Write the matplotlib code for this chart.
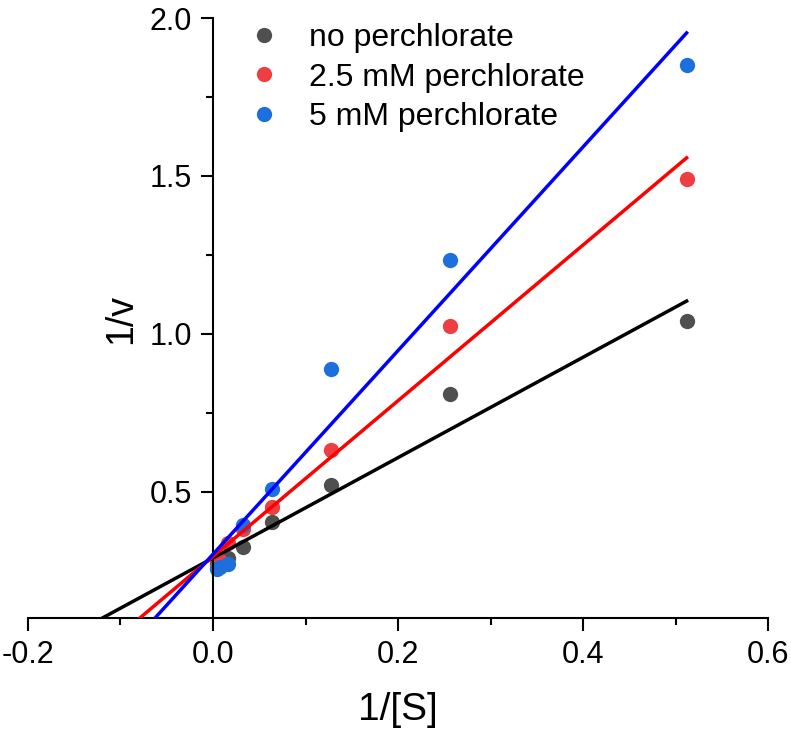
import numpy as np
import matplotlib.pyplot as plt
from matplotlib.ticker import MultipleLocator, FixedLocator

# 1/[S] values
inv_s = [0.004, 0.008, 0.016, 0.032, 0.064, 0.128, 0.256, 0.512]

# 1/v values
no_perc = [0.27, 0.28, 0.29, 0.325, 0.405, 0.522, 0.81, 1.04]
perc_25 = [0.26, 0.28, 0.338, 0.383, 0.452, 0.633, 1.025, 1.49]
perc_5 = [0.255, 0.262, 0.27, 0.396, 0.51, 0.889, 1.234, 1.851]

labels = ['no perchlorate', '2.5 mM perchlorate', '5 mM perchlorate']

# linear fits (slope, intercept) as drawn in the figure
slopes = [1.589, 2.465, 3.224]
intercepts = [0.290, 0.295, 0.302]

point_colors = ['#4f4f4f', '#ef3e42', '#1c6fdc']
line_colors = ['black', 'red', 'blue']

plt.rcParams['font.family'] = ['Liberation Sans', 'DejaVu Sans']
plt.rcParams['axes.unicode_minus'] = False

fig = plt.figure(figsize=(7.91, 7.36), dpi=100)
ax = fig.add_axes([28 / 791, 118 / 736, 740 / 791, 600 / 736])

xfit = np.array([-0.2, 0.512])
for m, b, lc in zip(slopes, intercepts, line_colors):
    ax.plot(xfit, m * xfit + b, color=lc, lw=2.5, zorder=3)
for series, pc, lab in zip([no_perc, perc_25, perc_5], point_colors, labels):
    ax.plot(inv_s, series, 'o', color=pc, ms=11, mec='none', label=lab, zorder=2)

ax.set_xlim(-0.2, 0.6)
ax.set_ylim(0.1, 2.0)

ax.spines['top'].set_visible(False)
ax.spines['right'].set_visible(False)
ax.spines['left'].set_position(('data', 0))
for s in ['left', 'bottom']:
    ax.spines[s].set_linewidth(1.5)

ax.xaxis.set_major_locator(MultipleLocator(0.2))
ax.xaxis.set_minor_locator(MultipleLocator(0.1))
ax.yaxis.set_major_locator(FixedLocator([0.5, 1.0, 1.5, 2.0]))
ax.yaxis.set_minor_locator(FixedLocator([0.75, 1.25, 1.75]))
ax.tick_params(which='major', length=9, width=1.5)
ax.tick_params(which='minor', length=5, width=1.5)
ax.tick_params(axis='y', labelsize=22, pad=6)
ax.tick_params(axis='x', labelsize=22, pad=7)

ax.set_xlabel('1/[S]', fontsize=28, labelpad=16)
fig.text(121 / 791, 1 - 319 / 736, '1/v', rotation=90, fontsize=27,
         ha='center', va='center')

ax.legend(loc='upper left', bbox_to_anchor=(0.2755, 1.013), frameon=False,
          fontsize=23, handletextpad=0.8, labelspacing=0.3, borderaxespad=0,
          handlelength=1.2)

fig.savefig('out.png', dpi=100)
